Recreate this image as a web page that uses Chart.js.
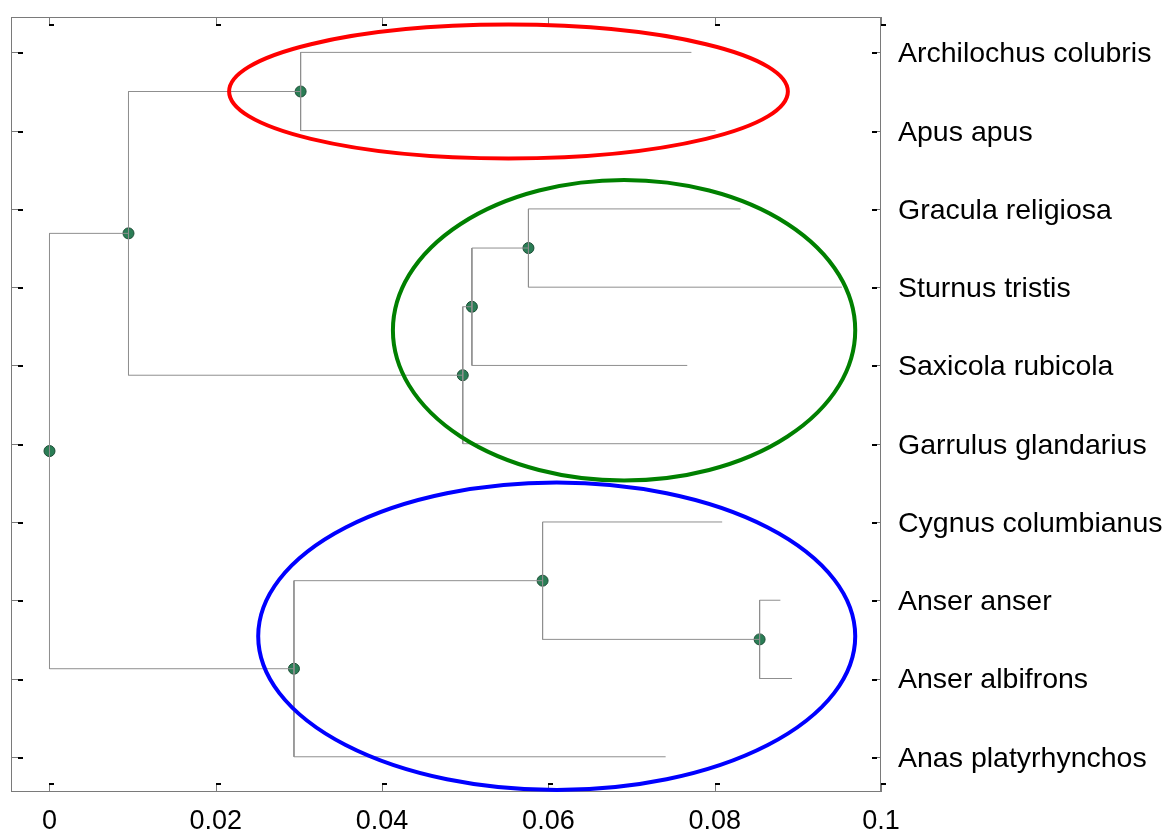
<!DOCTYPE html>
<html>
<head>
<meta charset="utf-8">
<script src="https://cdn.jsdelivr.net/npm/chart.js@4.4.1/dist/chart.umd.min.js"></script>
<style>
  html, body { margin: 0; padding: 0; background: #fff; }
  #contenedor { width: 1169px; height: 829px; }
</style>
</head>
<body>
<div id="contenedor"><canvas id="arbol"></canvas></div>
<script>
// especies (hojas), de arriba a abajo
const especies = [
    'Archilochus colubris', 'Apus apus', 'Gracula religiosa', 'Sturnus tristis',
    'Saxicola rubicola', 'Garrulus glandarius', 'Cygnus columbianus',
    'Anser anser', 'Anser albifrons', 'Anas platyrhynchos'
];
const ticksX = [0, 0.02, 0.04, 0.06, 0.08, 0.1];

// distancia donde termina cada hoja
const distHojas = [0.0772, 0.0801, 0.0831, 0.0953, 0.0767, 0.0865, 0.0809, 0.0879, 0.0893, 0.0741];

// nodos internos (ids 10..18): distancia y sus dos hijos (0-9 son hojas)
const distNodos = [0.0854, 0.0576, 0.0508, 0.0497, 0.0302, 0.0593, 0.0294, 0.0095, 0];
const hijoA = [7, 2, 11, 12, 0, 6, 15, 14, 17];
const hijoB = [8, 3, 4, 5, 1, 10, 9, 13, 16];

// grupos marcados con elipses
const elipseCx = [0.0552, 0.0691, 0.0610];
const elipseCy = [1.50, 4.55, 8.46];
const elipseRx = [0.0336, 0.0278, 0.0359];
const elipseRy = [0.855, 1.92, 1.965];
const elipseColor = ['#ff0000', '#008000', '#0000ff'];

// posiciones de hojas y nodos
const posX = distHojas.slice();
const posY = especies.map((e, i) => i + 1);
distNodos.forEach(function(d, k) {
    posX.push(d);
    posY.push((posY[hijoA[k]] + posY[hijoB[k]]) / 2);
});

const ramas = distNodos.map(function(d, k) {
    const a = hijoA[k], b = hijoB[k];
    return {
        data: [
            { x: posX[a], y: posY[a] },
            { x: d, y: posY[a] },
            { x: d, y: posY[b] },
            { x: posX[b], y: posY[b] }
        ],
        showLine: true,
        borderColor: '#8f8f8f',
        borderWidth: 1,
        pointRadius: 0,
        tension: 0
    };
});

const nodos = {
    data: distNodos.map((d, k) => ({ x: d, y: posY[10 + k] })),
    showLine: false,
    pointRadius: 5.5,
    backgroundColor: '#2a7d55',
    borderColor: '#1c4d35',
    borderWidth: 1
};

// marco y marcas hacia dentro
const marco = {
    id: 'marco',
    beforeDatasetsDraw(chart) {
        const ctx = chart.ctx;
        const a = chart.chartArea;
        const sx = chart.scales.x, sy = chart.scales.y;
        ctx.save();
        ctx.strokeStyle = '#7a7a7a';
        ctx.lineWidth = 1;
        ctx.strokeRect(a.left + 0.5, a.top + 0.5, a.right - a.left - 1, a.bottom - a.top - 1);
        ctx.beginPath();
        ticksX.forEach(function(v) {
            const px = Math.round(sx.getPixelForValue(v)) + 0.5;
            ctx.moveTo(px, a.top); ctx.lineTo(px, a.top + 7);
            ctx.moveTo(px, a.bottom); ctx.lineTo(px, a.bottom - 9);
        });
        posY.slice(0, especies.length).forEach(function(v) {
            const py = Math.round(sy.getPixelForValue(v)) + 0.5;
            ctx.moveTo(a.left, py); ctx.lineTo(a.left + 7, py);
            ctx.moveTo(a.right, py); ctx.lineTo(a.right - 4, py);
        });
        ctx.stroke();
        ctx.fillStyle = '#000';
        ticksX.forEach(function(v) {
            const px = Math.round(sx.getPixelForValue(v));
            ctx.fillRect(px, a.top + 7, 5, 2);
            ctx.fillRect(px, a.bottom - 9, 5, 2);
        });
        posY.slice(0, especies.length).forEach(function(v) {
            const py = Math.round(sy.getPixelForValue(v));
            ctx.fillRect(a.left + 7, py, 5, 2);
            ctx.fillRect(a.right - 9, py, 5, 2);
        });
        ctx.restore();
    }
};

const elipses = {
    id: 'elipses',
    afterDatasetsDraw(chart) {
        const ctx = chart.ctx;
        const sx = chart.scales.x, sy = chart.scales.y;
        ctx.save();
        ctx.lineWidth = 4;
        elipseCx.forEach(function(cx, i) {
            const px = sx.getPixelForValue(cx);
            const py = sy.getPixelForValue(elipseCy[i]);
            const rx = Math.abs(sx.getPixelForValue(cx + elipseRx[i]) - px);
            const ry = Math.abs(sy.getPixelForValue(elipseCy[i] + elipseRy[i]) - py);
            ctx.strokeStyle = elipseColor[i];
            ctx.beginPath();
            ctx.ellipse(px, py, rx, ry, 0, 0, Math.PI * 2);
            ctx.stroke();
        });
        ctx.restore();
    }
};

function sinRelleno(scale) {
    scale.paddingTop = 0;
    scale.paddingBottom = 0;
    scale.paddingLeft = 0;
    scale.paddingRight = 0;
}

new Chart(document.getElementById('arbol'), {
    type: 'scatter',
    data: { datasets: ramas.concat([nodos]) },
    options: {
        responsive: true,
        maintainAspectRatio: false,
        animation: false,
        layout: { padding: { left: 11, top: 17, right: 0, bottom: 0 } },
        plugins: { legend: { display: false }, tooltip: { enabled: false } },
        scales: {
            x: {
                type: 'linear',
                min: -0.00463,
                max: 0.1,
                grid: { display: false, drawTicks: false },
                border: { display: false },
                afterBuildTicks: function(scale) {
                    scale.ticks = ticksX.map(v => ({ value: v }));
                },
                afterFit: function(scale) { scale.height = 37; sinRelleno(scale); },
                ticks: {
                    autoSkip: false,
                    maxRotation: 0,
                    padding: 13,
                    color: '#000',
                    font: { family: '"Liberation Sans", Arial, sans-serif', size: 27 },
                    callback: v => String(+v.toFixed(2))
                }
            },
            y: {
                type: 'linear',
                position: 'right',
                reverse: true,
                min: 0.548,
                max: 10.45,
                grid: { display: false, drawTicks: false },
                border: { display: false },
                afterBuildTicks: function(scale) {
                    scale.ticks = especies.map((e, i) => ({ value: i + 1 }));
                },
                afterFit: function(scale) { scale.width = 288; sinRelleno(scale); },
                ticks: {
                    autoSkip: false,
                    padding: 17,
                    labelOffset: 2,
                    color: '#000',
                    font: { family: '"Liberation Sans", Arial, sans-serif', size: 28.5 },
                    callback: v => especies[Math.round(v) - 1]
                }
            }
        }
    },
    plugins: [marco, elipses]
});
</script>
</body>
</html>
